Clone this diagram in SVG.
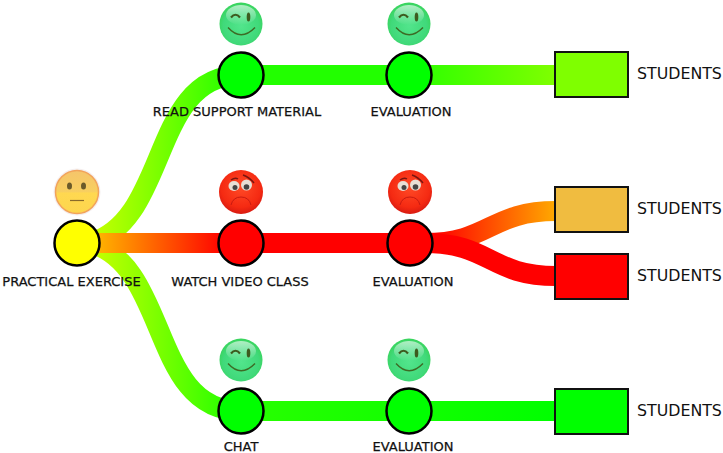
<svg xmlns="http://www.w3.org/2000/svg" width="723" height="453" viewBox="0 0 723 453">
<style>
.c{fill:none;stroke-width:20}
.n{stroke:#000;stroke-width:2.5}
.r{stroke:#111;stroke-width:2}
.l{font-family:"DejaVu Sans",sans-serif;font-size:13px;fill:#111;stroke:#111;stroke-width:.25;text-anchor:middle}
.s{font-family:"DejaVu Sans",sans-serif;font-size:15.8px;fill:#111}
</style>
<defs>
<linearGradient id="gt" gradientUnits="userSpaceOnUse" x1="95" y1="0" x2="235" y2="0"><stop offset="0" stop-color="#c4ff00"/><stop offset="1" stop-color="#22ff00"/></linearGradient>
<linearGradient id="gr" gradientUnits="userSpaceOnUse" x1="100" y1="0" x2="225" y2="0"><stop offset="0" stop-color="#ffb000"/><stop offset="1" stop-color="#ff0000"/></linearGradient>
<linearGradient id="g1" gradientUnits="userSpaceOnUse" x1="241" y1="0" x2="555" y2="0"><stop offset="0.5" stop-color="#22ff00"/><stop offset="1" stop-color="#7fff00"/></linearGradient>
<linearGradient id="g4" gradientUnits="userSpaceOnUse" x1="241" y1="0" x2="555" y2="0"><stop offset="0" stop-color="#28ff00"/><stop offset="1" stop-color="#00ff00"/></linearGradient>
<linearGradient id="go" gradientUnits="userSpaceOnUse" x1="435" y1="0" x2="555" y2="0"><stop offset="0" stop-color="#ff0000"/><stop offset="1" stop-color="#ffa800"/></linearGradient>
<radialGradient id="fg" cx="0.5" cy="0.55" r="0.55"><stop offset="0" stop-color="#52e58c"/><stop offset="0.75" stop-color="#40d97a"/><stop offset="1" stop-color="#38d45a"/></radialGradient>
<linearGradient id="fgs" x1="0" y1="0" x2="0" y2="1"><stop offset="0" stop-color="#fff" stop-opacity="0.6"/><stop offset="1" stop-color="#fff" stop-opacity="0"/></linearGradient>
<radialGradient id="fr" cx="0.5" cy="0.4" r="0.6"><stop offset="0" stop-color="#ff4a26"/><stop offset="0.75" stop-color="#f52a12"/><stop offset="1" stop-color="#d81a10"/></radialGradient>
<linearGradient id="fy" x1="0" y1="0" x2="0" y2="1"><stop offset="0" stop-color="#f5c56b"/><stop offset="0.5" stop-color="#f8cf60"/><stop offset="0.52" stop-color="#ffd850"/><stop offset="1" stop-color="#fdd64e"/></linearGradient>
<g id="happy">
<circle r="21.500" fill="url(#fg)"/>
<ellipse cy="-9" rx="15" ry="10" fill="url(#fgs)"/>
<path d="M-10-6.500Q-5.500-12-1-6.500" fill="none" stroke="#3d5b1f" stroke-width="2.200"/>
<ellipse cx="7.500" cy="-7" rx="1.800" ry="4.500" fill="#3d5b1f"/>
<path d="M-13 3.500Q0 18 14 3.500" fill="none" stroke="#3d6b25" stroke-width="1.400"/>
</g>
<g id="sad">
<circle r="22" fill="url(#fr)"/>
<ellipse cx="-7" cy="-6" rx="5.500" ry="5" fill="#e8ded4"/>
<ellipse cx="5.500" cy="-7" rx="5.500" ry="5.500" fill="#e8ded4"/>
<circle cx="-6" cy="-4.500" r="2.500" fill="#444"/>
<circle cx="5.500" cy="-5" r="2.800" fill="#444"/>
<path d="M-10-12Q-6-15-3-13M2-17Q8-15 13-9" fill="none" stroke="#7a1510" stroke-width="1.500"/>
<path d="M-10 13Q-8 5 0 5Q8 5 10 13" fill="none" stroke="#c81a10" stroke-width="1"/>
</g>
</defs>
<rect width="723" height="453" fill="#fff"/>
<g id="connectors">
<path class="c" stroke="url(#g1)" d="M241 75H556"/>
<path class="c" stroke="url(#g4)" d="M241 411H556"/>
<path class="c" stroke="url(#gt)" d="M90 243C170 220 150 75 241 75"/>
<path class="c" stroke="url(#gt)" d="M90 243C170 266 150 411 241 411"/>
<path class="c" stroke="url(#gr)" d="M95 243H408"/>
<path class="c" stroke="url(#go)" d="M425 243C490 243 490 211 556 211"/>
<path class="c" stroke="#f00" d="M425 243C490 243 490 276 556 276"/>
</g>
<g id="node-practical">
<circle cx="77" cy="192" r="23.500" fill="#f4eeee"/>
<circle cx="77" cy="192" r="21.500" fill="url(#fy)" stroke="#f2a35a" stroke-width="1.500"/>
<ellipse cx="69.500" cy="186" rx="2.500" ry="3.500" fill="#6b5a2a"/>
<ellipse cx="83.500" cy="186" rx="2.500" ry="3.500" fill="#6b5a2a"/>
<path d="M70 200.500H84" stroke="#8a6a2a" stroke-width="1.200"/>
<circle class="n" cx="77" cy="243" r="22.500" fill="#ff0"/>
<text class="l" x="71.500" y="286">PRACTICAL EXERCISE</text>
</g>
<g id="node-read">
<use href="#happy" x="241" y="24"/>
<circle class="n" cx="241" cy="75" r="22.500" fill="#0f0"/>
<text class="l" x="237" y="116">READ SUPPORT MATERIAL</text>
</g>
<g id="node-eval1">
<use href="#happy" x="409" y="24"/>
<circle class="n" cx="409" cy="75" r="22.500" fill="#0f0"/>
<text class="l" x="411" y="116">EVALUATION</text>
</g>
<g id="node-video">
<use href="#sad" x="241" y="192"/>
<circle class="n" cx="241" cy="243" r="22.500" fill="#f00"/>
<text class="l" x="240" y="286">WATCH VIDEO CLASS</text>
</g>
<g id="node-eval2">
<use href="#sad" x="410" y="192"/>
<circle class="n" cx="410" cy="243" r="22.500" fill="#f00"/>
<text class="l" x="413" y="286">EVALUATION</text>
</g>
<g id="node-chat">
<use href="#happy" x="241" y="360"/>
<circle class="n" cx="241" cy="411" r="22.500" fill="#0f0"/>
<text class="l" x="241" y="451">CHAT</text>
</g>
<g id="node-eval3">
<use href="#happy" x="409" y="360"/>
<circle class="n" cx="409" cy="411" r="22.500" fill="#0f0"/>
<text class="l" x="413" y="451">EVALUATION</text>
</g>
<g id="node-students1">
<rect class="r" x="555" y="52" width="73" height="45" fill="#7fff00"/>
<text class="s" x="637" y="79">STUDENTS</text>
</g>
<g id="node-students2">
<rect class="r" x="555" y="187" width="73" height="45" fill="#f0bc40"/>
<text class="s" x="637" y="214">STUDENTS</text>
</g>
<g id="node-students3">
<rect class="r" x="555" y="254" width="73" height="45" fill="#f00"/>
<text class="s" x="637" y="281">STUDENTS</text>
</g>
<g id="node-students4">
<rect class="r" x="555" y="389" width="73" height="45" fill="#0f0"/>
<text class="s" x="637" y="416">STUDENTS</text>
</g>
</svg>
